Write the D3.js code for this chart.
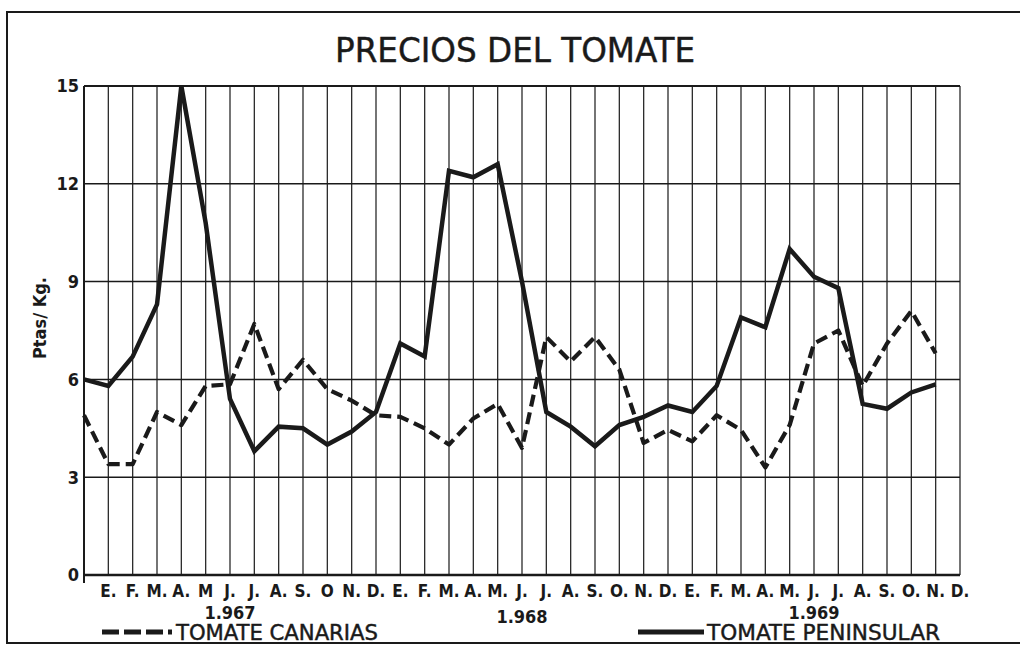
<!DOCTYPE html>
<html>
<head>
<meta charset="utf-8">
<script src="https://cdn.jsdelivr.net/npm/d3@7"></script>
<style>
    html, body { margin: 0; padding: 0; background: #fff; }
    #chart { width: 1020px; height: 645px; }
</style>
</head>
<body>
<div id="chart"></div>
<script>
// Precios del tomate, 1967-1969 (Ptas/Kg), one point per month

// month labels under each vertical line (index 1..36)
const monthLabels = [
    'E.', 'F.', 'M.', 'A.', 'M', 'J.', 'J.', 'A.', 'S.', 'O', 'N.', 'D.',
    'E.', 'F.', 'M.', 'A.', 'M.', 'J.', 'J.', 'A.', 'S.', 'O.', 'N.', 'D.',
    'E.', 'F.', 'M.', 'A.', 'M.', 'J.', 'J.', 'A.', 'S.', 'O.', 'N.', 'D.'
];
const years = ['1.967', '1.968', '1.969'];
const yearCentre = [6, 18, 30];
const yTicks = [0, 3, 6, 9, 12, 15];

// series values, index 0 = left axis
const canarias = [
    4.9, 3.4, 3.4, 5.0, 4.6, 5.8, 5.85, 7.7, 5.7, 6.6, 5.7, 5.35,
    4.9, 4.85, 4.5, 4.0, 4.8, 5.25, 3.9, 7.3, 6.55, 7.3, 6.3, 4.05,
    4.45, 4.1, 4.9, 4.45, 3.3, 4.6, 7.1, 7.5, 5.8, 7.1, 8.1, 6.8
];
const peninsular = [
    6.0, 5.8, 6.7, 8.3, 15.0, 10.8, 5.4, 3.8, 4.55, 4.5, 4.0, 4.4,
    5.0, 7.1, 6.7, 12.4, 12.2, 12.6, 9.0, 5.0, 4.55, 3.95, 4.6, 4.85,
    5.2, 5.0, 5.8, 7.9, 7.6, 10.0, 9.15, 8.8, 5.25, 5.1, 5.6, 5.85
];

const width = 1020;
const height = 645;
const ink = '#1a1a1a';
const condensed = '"DejaVu Sans Condensed", "DejaVu Sans", sans-serif';

const svg = d3.select('#chart')
    .append('svg')
    .attr('width', width)
    .attr('height', height)
    .style('background', '#fff');

// outer frame (left, top, bottom)
svg.append('path')
    .attr('d', `M1020,12 L7,12 L7,643 L1020,643`)
    .attr('fill', 'none')
    .attr('stroke', ink)
    .attr('stroke-width', 2);

// Title
svg.append('text')
    .attr('x', 515)
    .attr('y', 62)
    .attr('text-anchor', 'middle')
    .attr('textLength', 360)
    .attr('lengthAdjust', 'spacingAndGlyphs')
    .style('font-family', condensed)
    .style('font-size', '34px')
    .style('fill', ink)
    .style('stroke', ink)
    .style('stroke-width', 0.4)
    .text('PRECIOS DEL TOMATE');

// Scales
const x = d3.scaleLinear().domain([0, 36]).range([84, 960]);
const y = d3.scaleLinear().domain([0, 15]).range([575, 86]);

const g = svg.append('g');

// vertical grid, one line per month
g.append('g')
    .selectAll('line')
    .data(d3.range(1, 37))
    .enter()
    .append('line')
    .attr('x1', d => x(d))
    .attr('x2', d => x(d))
    .attr('y1', y(15))
    .attr('y2', y(0))
    .attr('stroke', '#2a2a2a')
    .attr('stroke-width', 1.3);

// horizontal grid
g.append('g')
    .selectAll('line')
    .data(yTicks)
    .enter()
    .append('line')
    .attr('x1', x(0))
    .attr('x2', x(36))
    .attr('y1', d => y(d))
    .attr('y2', d => y(d))
    .attr('stroke', ink)
    .attr('stroke-width', d => d === 0 ? 2.6 : (d === 15 ? 2 : 1.5));

// left axis line, running a bit below zero
g.append('line')
    .attr('x1', x(0))
    .attr('x2', x(0))
    .attr('y1', y(15))
    .attr('y2', y(0) + 8)
    .attr('stroke', ink)
    .attr('stroke-width', 2);

// y tick labels
g.append('g')
    .selectAll('text')
    .data(yTicks)
    .enter()
    .append('text')
    .attr('x', 79)
    .attr('y', d => y(d))
    .attr('dy', '0.36em')
    .attr('text-anchor', 'end')
    .style('font-family', condensed)
    .style('font-weight', 'bold')
    .style('font-size', '18px')
    .style('fill', ink)
    .text(d => d);

// y axis title
svg.append('text')
    .attr('transform', 'translate(46, 318) rotate(-90)')
    .attr('text-anchor', 'middle')
    .style('font-family', condensed)
    .style('font-weight', 'bold')
    .style('font-size', '18px')
    .style('fill', ink)
    .text('Ptas/ Kg.');

// month labels
g.append('g')
    .selectAll('text')
    .data(monthLabels)
    .enter()
    .append('text')
    .attr('x', (d, i) => x(i + 1))
    .attr('y', 597)
    .attr('text-anchor', 'middle')
    .style('font-family', condensed)
    .style('font-weight', 'bold')
    .style('font-size', '17px')
    .style('fill', ink)
    .text(d => d);

// year labels, centred under each year
const yearBase = [619, 623, 619];
g.append('g')
    .selectAll('text')
    .data(years)
    .enter()
    .append('text')
    .attr('x', (d, i) => x(yearCentre[i]))
    .attr('y', (d, i) => yearBase[i])
    .attr('text-anchor', 'middle')
    .style('font-family', condensed)
    .style('font-weight', 'bold')
    .style('font-size', '18px')
    .style('fill', ink)
    .text(d => d);

// Lines
const line = d3.line()
    .x((d, i) => x(i))
    .y(d => y(d));

g.append('path')
    .datum(canarias)
    .attr('d', line)
    .attr('fill', 'none')
    .attr('stroke', ink)
    .attr('stroke-width', 4.2)
    .attr('stroke-dasharray', '12,6')
    .attr('stroke-linejoin', 'round');

g.append('path')
    .datum(peninsular)
    .attr('d', line)
    .attr('fill', 'none')
    .attr('stroke', ink)
    .attr('stroke-width', 4.5)
    .attr('stroke-linejoin', 'miter');

// Legend
const legendData = [
    { label: 'TOMATE CANARIAS', x0: 102, x1: 172, tx: 176, tl: 202, dash: '17,5' },
    { label: 'TOMATE PENINSULAR', x0: 638, x1: 704, tx: 707, tl: 233, dash: null }
];

legendData.forEach(item => {
    svg.append('line')
        .attr('x1', item.x0)
        .attr('x2', item.x1)
        .attr('y1', 632)
        .attr('y2', 632)
        .attr('stroke', ink)
        .attr('stroke-width', 5)
        .attr('stroke-dasharray', item.dash);

    svg.append('text')
        .attr('x', item.tx)
        .attr('y', 640)
        .attr('textLength', item.tl)
        .attr('lengthAdjust', 'spacingAndGlyphs')
        .style('font-family', condensed)
        .style('font-size', '21px')
        .style('fill', ink)
        .style('stroke', ink)
        .style('stroke-width', 0.4)
        .text(item.label);
});
</script>
</body>
</html>
